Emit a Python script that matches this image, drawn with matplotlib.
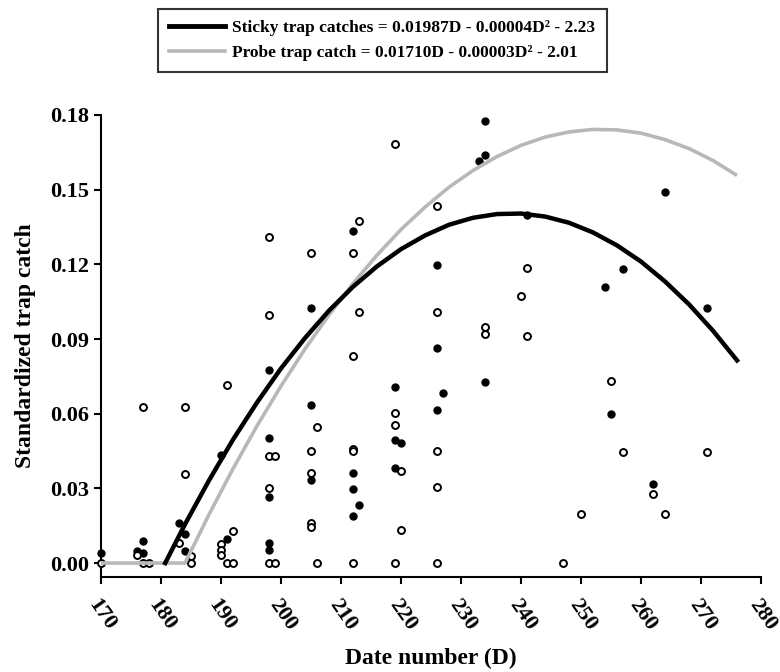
import numpy as np
import matplotlib
matplotlib.use('Agg')
import matplotlib.pyplot as plt
from matplotlib.lines import Line2D

plt.rcParams['font.family'] = ['Liberation Serif', 'DejaVu Serif']
plt.rcParams['font.weight'] = 'bold'

# sticky trap catches (filled dots)
sticky_d = [170, 176, 177, 177, 183, 184, 184, 190, 191,
            198, 198, 198, 198, 198, 205, 205, 205,
            212, 212, 212, 212, 213, 219, 219, 219, 220,
            226, 226, 226, 227, 233, 234, 234, 234, 241,
            254, 255, 257, 262, 264, 271]
sticky_y = [0.004, 0.005, 0.004, 0.009, 0.0162, 0.0115, 0.0049, 0.0434, 0.0095,
            0.0775, 0.0503, 0.0266, 0.0082, 0.0052, 0.1026, 0.0635, 0.0333,
            0.1334, 0.0363, 0.0299, 0.0189, 0.0232, 0.0708, 0.0494, 0.038, 0.0483,
            0.1199, 0.0865, 0.0615, 0.0682, 0.1615, 0.1776, 0.1639, 0.0728, 0.140,
            0.1108, 0.0597, 0.1183, 0.0317, 0.1492, 0.1024]

# probe trap catches (open circles)
probe_d = [170, 176, 177, 177, 178, 183, 184, 184, 185, 185,
           190, 190, 190, 191, 191, 192, 192,
           198, 198, 198, 199, 198, 198, 199,
           205, 205, 205, 205, 205, 206, 206,
           212, 212, 212, 212, 212, 213, 213,
           219, 219, 219, 219, 220, 220,
           226, 226, 226, 226, 226,
           234, 234, 240, 241, 241, 247, 250, 255, 257, 262, 264, 271]
probe_y = [0.0, 0.0032, 0.0625, 0.0, 0.0, 0.0079, 0.0626, 0.0358, 0.0028, 0.0,
           0.0076, 0.0052, 0.0032, 0.0716, 0.0, 0.0128, 0.0,
           0.1311, 0.0998, 0.043, 0.043, 0.030, 0.0, 0.0,
           0.1247, 0.0451, 0.0363, 0.016, 0.0146, 0.0548, 0.0,
           0.1247, 0.0832, 0.046, 0.0451, 0.0, 0.1374, 0.101,
           0.1683, 0.0601, 0.0554, 0.0, 0.037, 0.0131,
           0.1434, 0.101, 0.045, 0.0305, 0.0,
           0.0949, 0.0919, 0.1074, 0.1184, 0.0912, 0.0, 0.0197, 0.0733, 0.0445, 0.0279, 0.0196, 0.0446]

# fitted curves
sticky_fit_d = [180.7, 184, 188, 192, 196, 200, 204, 208, 212, 216, 220, 224, 228,
                232, 236, 240, 244, 248, 252, 256, 260, 264, 268, 272, 276]
sticky_fit_y = [0.0, 0.0156, 0.0332, 0.0496, 0.0645, 0.0782, 0.0904, 0.1014, 0.1110,
                0.1192, 0.1261, 0.1316, 0.1359, 0.1387, 0.1402, 0.1404, 0.1392,
                0.1367, 0.1328, 0.1276, 0.1211, 0.1131, 0.1039, 0.0933, 0.0814]
probe_fit_d = [170, 184, 188, 192, 196, 200, 204, 208, 212, 216, 220, 224, 228,
               232, 236, 240, 244, 248, 252, 256, 260, 264, 268, 272, 276]
probe_fit_y = [0.0, 0.0, 0.0195, 0.0379, 0.0551, 0.0711, 0.0860, 0.0997, 0.1123,
               0.1237, 0.1340, 0.1430, 0.1510, 0.1577, 0.1633, 0.1678, 0.1711,
               0.1732, 0.1742, 0.1740, 0.1727, 0.1701, 0.1665, 0.1617, 0.1557]

sticky_label = 'Sticky trap catches = 0.01987D - 0.00004D\u00b2 - 2.23'
probe_label = 'Probe trap catch = 0.01710D - 0.00003D\u00b2 - 2.01'

fig = plt.figure(figsize=(7.8, 6.72), dpi=100)
ax = fig.add_axes([0.1295, 0.1414, 0.8462, 0.6875])

ax.plot(sticky_d, sticky_y, 'o', color='black', markersize=5, zorder=3, clip_on=False)
ax.plot(probe_d, probe_y, 'o', markerfacecolor='white', markeredgecolor='black',
        markeredgewidth=1.4, markersize=5, zorder=3, clip_on=False)
ax.plot(probe_fit_d, probe_fit_y, color='#b8b8b8', lw=2.6, zorder=4, solid_capstyle='butt')
ax.plot(sticky_fit_d, sticky_fit_y, color='black', lw=3.2, zorder=5)

ax.set_xlim(170, 280)
ax.set_ylim(-0.0056, 0.18)
ax.set_xticks(np.arange(170, 281, 10))
ax.set_yticks(np.arange(0, 0.181, 0.03))
ax.set_yticklabels([f'{v:.2f}' for v in np.arange(0, 0.181, 0.03)])
for s in ['top', 'right']:
    ax.spines[s].set_visible(False)
for s in ['left', 'bottom']:
    ax.spines[s].set_linewidth(1.5)
ax.tick_params(direction='out', length=5, width=1.5, labelsize=16)
ax.tick_params(axis='x', pad=8)
for lab in ax.get_xticklabels():
    lab.set_rotation(-55)
    lab.set_ha('left')
    lab.set_va('top')
    lab.set_rotation_mode('anchor')

ax.set_xlabel('Date number (D)', fontsize=17, fontweight='bold', labelpad=10)
ax.set_ylabel('Standardized trap catch', fontsize=17, fontweight='bold', labelpad=10)

handles = [Line2D([], [], color='black', lw=3.5),
           Line2D([], [], color='#b8b8b8', lw=2.6)]
leg = fig.legend(handles, [sticky_label, probe_label], loc='center',
                 bbox_to_anchor=(0.49, 0.94), fontsize=12.5, frameon=True,
                 fancybox=False, handlelength=3.2, handletextpad=0.45,
                 borderpad=0.65, labelspacing=0.5, borderaxespad=0)
leg.get_frame().set_edgecolor('black')
leg.get_frame().set_linewidth(1.5)

fig.savefig('out.png', dpi=100)
